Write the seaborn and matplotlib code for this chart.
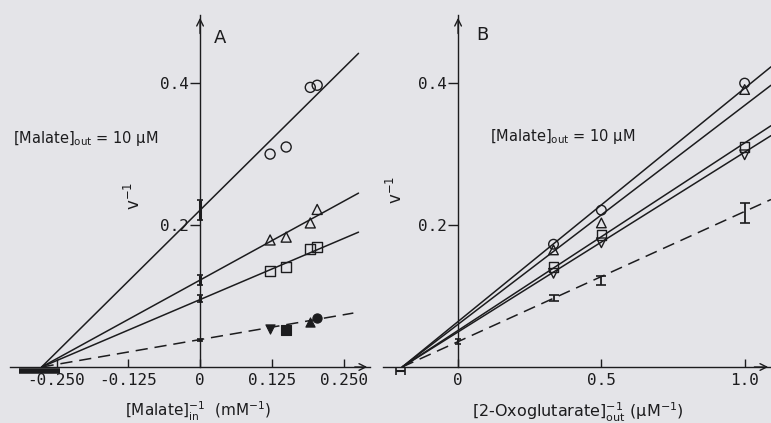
import numpy as np
import pandas as pd
import matplotlib
matplotlib.use("Agg")
import matplotlib.pyplot as plt
import seaborn as sns

sns.set_theme(style="white")
plt.rcParams['font.family'] = ['DejaVu Sans']
plt.rcParams['mathtext.default'] = 'regular'

INK = '#1c1c1e'
PAPER = '#e4e4e8'

# ---------------- Panel A data ----------------
a_x = [0.122, 0.150, 0.192, 0.204]
a_circle = [0.300, 0.310, 0.394, 0.397]
a_triangle = [0.179, 0.183, 0.203, 0.222]
a_square = [0.135, 0.141, 0.166, 0.169]
a_filled = [0.053, 0.052, 0.064, 0.069]
a_filled_markers = ['v', 's', '^', 'o']

a_line_x0 = -0.276
a_line_x1 = [0.276, 0.276, 0.276, 0.267]
a_line_y1 = [0.442, 0.245, 0.190, 0.076]

a_int_y = [0.221, 0.1225, 0.097, 0.038]
a_int_err = [0.014, 0.007, 0.005, 0.002]
a_xint = -0.280
a_xint_err = 0.036

a_xticks = [-0.250, -0.125, 0, 0.125, 0.250]
a_xticklabels = ['-0.250', '-0.125', '0', '0.125', '0.250']

# ---------------- Panel B data ----------------
b_x = [0.333, 0.5, 1.0]
b_circle = [0.173, 0.221, 0.400]
b_triangle = [0.165, 0.203, 0.391]
b_square = [0.141, 0.186, 0.310]
b_dtriangle = [0.132, 0.175, 0.299]
b_dashed = [0.097, 0.122, 0.217]
b_dashed_err = [0.004, 0.006, 0.014]

b_line_x0 = -0.195
b_line_x1 = 1.092
b_line_y1 = [0.423, 0.397, 0.340, 0.326, 0.236]

b_int_y = [0.036]
b_int_err = [0.003]
b_xint = -0.200
b_xint_err = 0.015

b_xticks = [0, 0.5, 1.0]
b_xticklabels = ['0', '0.5', '1.0']

y_ticks = [0.2, 0.4]
y_ticklabels = ['0.2', '0.4']

W, H = 771, 423
fig = plt.figure(figsize=(W / 100, H / 100), dpi=100, facecolor=PAPER)


def px_axes(x0, x1, ytop, ybot):
    return fig.add_axes([x0 / W, 1 - ybot / H, (x1 - x0) / W, (ybot - ytop) / H])


def style_axes(ax, xlim, ylim, xticks, xticklabels):
    ax.set_facecolor('none')
    ax.set_xlim(*xlim)
    ax.set_ylim(*ylim)
    for s in ['top', 'right']:
        ax.spines[s].set_visible(False)
    ax.spines['left'].set_position(('data', 0))
    ax.spines['bottom'].set_position(('data', 0))
    for s in ['left', 'bottom']:
        ax.spines[s].set_color(INK)
        ax.spines[s].set_linewidth(1.0)
    ax.set_xticks(xticks)
    ax.set_xticklabels(xticklabels)
    ax.set_yticks(y_ticks)
    ax.set_yticklabels(y_ticklabels)
    ax.tick_params(axis='x', direction='in', length=6, width=1, color=INK,
                   labelcolor=INK, labelsize=11.5, pad=4, bottom=True)
    ax.tick_params(axis='y', direction='out', length=7, width=1, color=INK,
                   labelcolor=INK, labelsize=11.5, pad=1, left=True)
    for lab in ax.get_xticklabels() + ax.get_yticklabels():
        lab.set_family('DejaVu Sans Mono')
    ax.set_xlabel('')
    ax.set_ylabel('')
    ax.grid(False)
    # arrows
    ax.annotate('', xy=(0, ylim[1]), xytext=(0, ylim[1] - 0.03),
                arrowprops=dict(arrowstyle='->', color=INK, lw=1.0,
                                mutation_scale=12), annotation_clip=False)
    ax.annotate('', xy=(xlim[1], 0), xytext=(xlim[1] - (xlim[1] - xlim[0]) * 0.05, 0),
                arrowprops=dict(arrowstyle='->', color=INK, lw=1.0,
                                mutation_scale=12), annotation_clip=False)


def draw_line(ax, x0, x1, y1, dashed=False):
    df = pd.DataFrame({'x': [x0, x1], 'y': [0.0, y1]})
    sns.lineplot(data=df, x='x', y='y', ax=ax, color=INK, lw=1.1, sort=False)
    if dashed:
        ax.lines[-1].set_dashes((8, 4.5))


def open_markers(ax, x, y, marker, size=40):
    sns.scatterplot(x=x, y=y, ax=ax, marker=marker, s=size, facecolors='none',
                    edgecolor=INK, linewidth=1.0, zorder=5)


# ---------------- Panel A ----------------
axA = px_axes(10, 370, 15, 367)
a_xlim = (-0.331, 0.296)
ylim = (0, 0.496)
for i in range(3):
    draw_line(axA, a_line_x0, a_line_x1[i], a_line_y1[i])
draw_line(axA, a_line_x0, a_line_x1[3], a_line_y1[3], dashed=True)

open_markers(axA, a_x, a_circle, 'o', 52)
open_markers(axA, a_x, a_triangle, '^', 52)
open_markers(axA, a_x, a_square, 's', 52)
for xi, yi, m in zip(a_x, a_filled, a_filled_markers):
    sns.scatterplot(x=[xi], y=[yi], ax=axA, marker=m, s=44, color=INK,
                    edgecolor=INK, linewidth=0.8, zorder=5)

axA.errorbar([0] * len(a_int_y), a_int_y, yerr=a_int_err, fmt='none',
             ecolor=INK, elinewidth=2.2, capsize=2.5, capthick=1.2, zorder=6)
axA.errorbar([a_xint], [-0.006], xerr=[a_xint_err], fmt='none', ecolor=INK,
             elinewidth=4, capsize=0, clip_on=False, zorder=6)
style_axes(axA, a_xlim, ylim, a_xticks, a_xticklabels)

# ---------------- Panel B ----------------
axB = px_axes(383, 771, 15, 367)
b_xlim = (-0.262, 1.092)
for yv in b_line_y1[:4]:
    draw_line(axB, b_line_x0, b_line_x1, yv)
draw_line(axB, b_line_x0, b_line_x1, b_line_y1[4], dashed=True)

open_markers(axB, b_x, b_circle, 'o', 48)
open_markers(axB, b_x, b_triangle, '^', 48)
open_markers(axB, b_x, b_square, 's', 48)
open_markers(axB, b_x, b_dtriangle, 'v', 48)
axB.errorbar(b_x, b_dashed, yerr=b_dashed_err, fmt='none', ecolor=INK,
             elinewidth=1.3, capsize=3.5, capthick=1.2, zorder=6)
axB.errorbar([0] * len(b_int_y), b_int_y, yerr=b_int_err, fmt='none',
             ecolor=INK, elinewidth=1.5, capsize=2.5, capthick=1.2, zorder=6)
axB.errorbar([b_xint], [-0.006], xerr=[b_xint_err], fmt='none', ecolor=INK,
             elinewidth=1.5, capsize=3, capthick=1.2, clip_on=False, zorder=6)
style_axes(axB, b_xlim, ylim, b_xticks, b_xticklabels)


# ---------------- Texts ----------------
def ftext(x, y, s, **kw):
    kw.setdefault('color', INK)
    fig.text(x / W, 1 - y / H, s, **kw)


ftext(220, 38, 'A', fontsize=13, ha='center', va='center')
ftext(482, 35, 'B', fontsize=13, ha='center', va='center')
ftext(13, 139, r'[Malate]$_{out}$ = 10 μM', fontsize=10.5, ha='left', va='center')
ftext(490, 137, r'[Malate]$_{out}$ = 10 μM', fontsize=10.5, ha='left', va='center')
ftext(134, 196, r'$v^{-1}$', fontsize=12, rotation=90, ha='center', va='center')
ftext(396, 190, r'$v^{-1}$', fontsize=12, rotation=90, ha='center', va='center')
ftext(198, 411, r'[Malate]$_{in}^{-1}$  (mM$^{-1}$)', fontsize=11,
      ha='center', va='center')
ftext(578, 412, r'[2-Oxoglutarate]$_{out}^{-1}$ (μM$^{-1}$)', fontsize=11.5,
      ha='center', va='center')

fig.savefig('out.png', dpi=100, facecolor=PAPER)
